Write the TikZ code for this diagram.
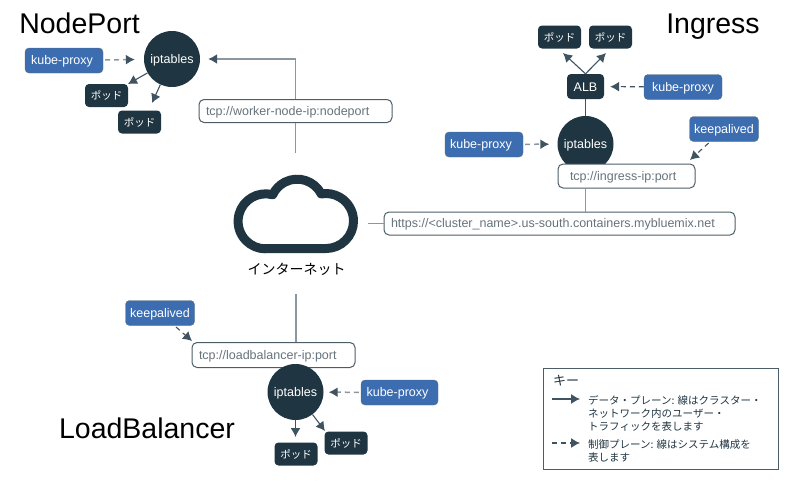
\documentclass[tikz,border=0pt]{standalone}
\usepackage{fontspec}
\setmainfont{Liberation Sans}
\newfontfamily\jpfont{Noto Sans CJK JP}
\usetikzlibrary{arrows.meta,calc}
\definecolor{darknavy}{HTML}{1F3541}
\definecolor{proxyblue}{HTML}{3C6DB0}
\definecolor{linegray}{HTML}{8A979F}
\definecolor{tipgray}{HTML}{3F5360}
\definecolor{addrtext}{HTML}{66737B}
\tikzset{>={Latex[length=9pt,width=10pt,color=tipgray]}}
\tikzset{
    title/.style={font=\fontsize{28.5}{30}\selectfont, text=black, inner sep=0},
    iptcircle/.style={circle, fill=darknavy, text=white, minimum size=56pt, inner sep=0, text height=10pt, text depth=2pt, font=\fontsize{12.5}{14}\selectfont},
    podbox/.style={rounded corners=4pt, fill=darknavy, text=white, minimum width=43pt, minimum height=23pt, inner sep=0, font=\jpfont\fontsize{10.5}{12}\selectfont},
    albbox/.style={rounded corners=4pt, fill=darknavy, text=white, minimum width=37pt, minimum height=25pt, inner sep=0, text height=10pt, text depth=1pt, font=\fontsize{12.5}{14}\selectfont},
    proxybox/.style={rounded corners=4pt, draw=darknavy!70, fill=proxyblue, text=white, minimum height=25pt, inner sep=0, text height=10pt, text depth=2pt, font=\fontsize{12.5}{14}\selectfont},
    addrbox/.style={rounded corners=5pt, draw=darknavy!80, line width=1pt, fill=white, text=addrtext, align=left, inner xsep=7pt, inner ysep=0, minimum height=23pt, text height=10pt, text depth=2pt, font=\fontsize{12.5}{14}\selectfont},
    dataline/.style={draw=tipgray, line width=1.1pt},
    grayline/.style={draw=linegray, line width=1.5pt},
    ctrlline/.style={draw=tipgray, line width=1.1pt, dash pattern=on 5pt off 4pt},
    ctrlgray/.style={draw=linegray, line width=1.5pt, dash pattern=on 5pt off 4pt},
    keytext/.style={anchor=west, align=left, inner sep=0, text=darknavy, font=\jpfont\fontsize{10.5}{13}\selectfont},
}
\begin{document}
\begin{tikzpicture}[x=1pt,y=-1pt]
    \useasboundingbox (0,0) rectangle (794,490);

    % NodePort
    \node[title] (nptitle) at (79.5,23) {NodePort};
    \node[iptcircle] (npip) at (172,59) {iptables};
    \node[proxybox, minimum width=78pt] (npproxy) at (64,60.5) {kube-proxy\kern4pt};
    \node[podbox] (nppoda) at (106.5,95.5) {ポッド};
    \node[podbox] (nppodb) at (139.5,122) {ポッド};
    \node[addrbox, text width=179pt] (nptcp) at (295.5,111) {tcp://worker-node-ip:nodeport};
    \coordinate (npend) at (295.5,153);
    \coordinate (npatip) at (128,84);
    \coordinate (npbtip) at (152,103);

    \draw[ctrlgray, ->, shorten >=9pt, shorten <=2pt] (npproxy) -- (npip);
    \draw[dataline, ->] (npip) -- (npatip);
    \draw[dataline, ->] (npip) -- (npbtip);
    \draw[grayline] (npend) -- (nptcp);
    \draw[grayline, ->, shorten >=8pt] (nptcp) |- (npip);

    % Ingress
    \node[title] (ingtitle) at (713,27) {Ingress};
    \node[podbox] (ingpoda) at (559.5,37) {ポッド};
    \node[podbox] (ingpodb) at (610.5,37) {ポッド};
    \node[albbox] (alb) at (585.5,86.5) {ALB};
    \node[proxybox, minimum width=78pt] (ingproxyb) at (683,87) {kube-proxy};
    \node[iptcircle] (ingip) at (585.5,144) {iptables};
    \node[proxybox, minimum width=78pt] (ingproxya) at (484,144.5) {kube-proxy\kern6pt};
    \node[proxybox, minimum width=69pt] (ingkeep) at (724,129) {keepalived};
    \node[addrbox, inner xsep=12pt, text width=113pt, minimum height=24pt] (ingtcp) at (626.5,176) {tcp://ingress-ip:port};
    \node[addrbox, text width=337pt] (https) at (559.5,223.5) {https://<cluster\_name>.us-south.containers.mybluemix.net};
    \coordinate (ingatip) at (563,53);
    \coordinate (ingbtip) at (606,53);
    \coordinate (ingktip) at (690,160);

    \draw[dataline, ->] (alb.north) -- (ingatip);
    \draw[dataline, ->] (alb.north) -- (ingbtip);
    \draw[dataline] (alb) -- (ingip);
    \draw[ctrlline, ->, shorten >=6pt] (ingproxyb) -- (alb);
    \draw[ctrlgray, ->, shorten >=8pt, shorten <=2pt] (ingproxya) -- (ingip);
    \draw[ctrlline, ->, shorten <=2pt] (ingkeep) -- (ingktip);
    \draw[grayline] (ingtcp.south -| ingip) -- (https.north -| ingip);

    % cloud
    \draw[draw=darknavy, line width=9pt, line join=round] (265,248.5) -- (326,248.5)
        arc (90:-100:27.5) arc (-27:-155:27) arc (-75:-270:27.5) -- cycle;
    \node[font=\jpfont\fontsize{14}{15}\selectfont, text=black, inner sep=0] (cloudlabel) at (296.5,269.5) {インターネット};
    \coordinate (cloudend) at (368,223.5);
    \draw[grayline] (cloudend) -- (https);

    % LoadBalancer
    \node[title] (lbtitle) at (147,428) {LoadBalancer};
    \node[proxybox, minimum width=69pt] (lbkeep) at (160,313) {keepalived};
    \node[addrbox, text width=149pt, minimum height=25pt] (lbtcp) at (273.5,355) {tcp://loadbalancer-ip:port};
    \node[iptcircle] (lbip) at (295.5,392) {iptables};
    \node[proxybox, minimum width=77pt] (lbproxy) at (399.5,392.5) {kube-proxy\kern4pt};
    \node[podbox] (lbpoda) at (296,454) {ポッド};
    \node[podbox] (lbpodb) at (346,443) {ポッド};
    \coordinate (lbend) at (296,294);
    \coordinate (lbktip) at (192,341);
    \coordinate (lbatip) at (295.5,437);
    \coordinate (lbbtip) at (325,431);

    \draw[grayline] (lbend) -- (lbtcp.north -| lbend);
    \draw[ctrlline, ->, shorten <=2pt] (lbkeep) -- (lbktip);
    \draw[ctrlgray, ->, shorten >=5pt, shorten <=2pt] (lbproxy) -- (lbip);
    \draw[dataline, ->] (lbip) -- (lbatip);
    \draw[dataline, ->] (lbip) -- (lbbtip);

    % key
    \node[draw=darknavy!80, line width=1pt, minimum width=235pt, minimum height=101pt, inner sep=0] (keybox) at (660.5,418.5) {};
    \node[anchor=west, inner sep=0, text=darknavy, font=\jpfont\fontsize{13}{15}\selectfont] (keytitle) at (553,381) {キー};
    \node[keytext] (keydata) at (588,413) {データ・プレーン: 線はクラスター・\\ネットワーク内のユーザー・\\トラフィックを表します};
    \node[keytext] (keyctrl) at (588,450.5) {制御プレーン: 線はシステム構成を\\表します};
    \coordinate (keya) at (552,399);
    \coordinate (keyb) at (580,399);
    \coordinate (keyc) at (552,443);
    \coordinate (keyd) at (580,443);
    \draw[dataline, ->] (keya) -- (keyb);
    \draw[ctrlline, ->] (keyc) -- (keyd);

\end{tikzpicture}
\end{document}
